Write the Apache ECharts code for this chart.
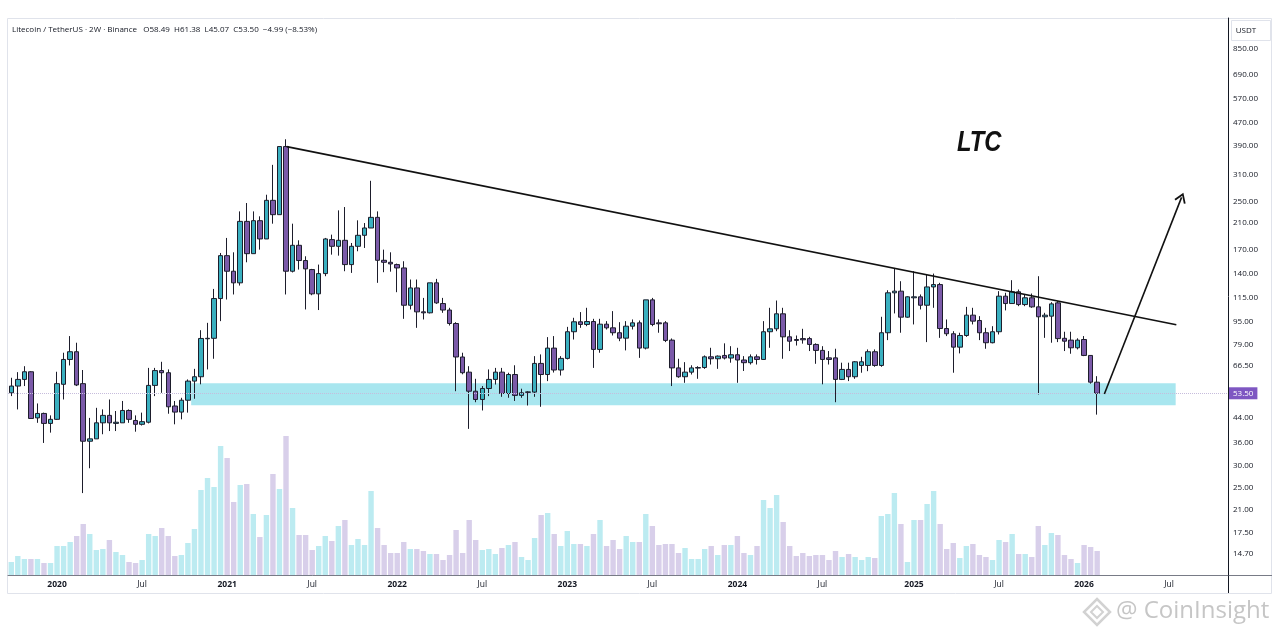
<!DOCTYPE html>
<html>
<head>
<meta charset="utf-8">
<title>Litecoin / TetherUS · 2W · Binance</title>
<script src="https://cdn.jsdelivr.net/npm/echarts@6.0.0/dist/echarts.min.js"></script>
<style>
  html, body { margin: 0; padding: 0; background: #ffffff; }
  #chart { width: 1280px; height: 636px; }
</style>
</head>
<body>
<div id="chart"></div>
<script>
// 2W candles, bar 0 = 2019-09-30, bar 166 = 2026-02-09 (x is the bar index)
const opens = [
  53.7, 56.7, 59.8, 63.6, 43.9, 45.5, 42.0, 43.4, 57.5, 70.2,
  74.7, 57.8, 36.4, 37.1, 42.2, 44.8, 42.0, 42.2, 46.6, 43.0,
  41.7, 42.4, 57.0, 64.2, 63.1, 48.3, 46.0, 50.6, 59.0, 61.1,
  82.9, 83.2, 114.5, 161.6, 142.6, 129.9, 212.8, 164.2, 214.0, 184.8,
  252.0, 224.6, 388.2, 142.6, 175.6, 155.4, 144.5, 118.9, 139.9, 183.8,
  174.2, 182.8, 150.4, 174.2, 190.3, 201.8, 219.8, 155.7, 153.2, 150.4,
  146.4, 108.5, 124.7, 102.9, 102.1, 129.9, 110.0, 104.4, 93.7, 71.6,
  63.4, 54.4, 50.9, 55.6, 59.8, 63.4, 53.4, 62.2, 52.6, 53.9,
  54.0, 68.0, 62.2, 76.9, 64.5, 70.8, 87.7, 95.0, 93.0, 95.2,
  76.1, 93.2, 90.5, 87.0, 83.3, 91.7, 94.2, 76.9, 113.3, 94.2,
  94.2, 82.0, 65.6, 61.1, 63.4, 65.5, 65.8, 71.7, 70.6, 72.5,
  71.0, 72.9, 69.9, 68.4, 71.7, 70.2, 87.7, 89.8, 101.3, 84.2,
  82.4, 83.0, 83.0, 79.2, 75.5, 71.1, 71.1, 59.8, 64.8, 61.1,
  66.9, 66.9, 74.7, 66.9, 87.0, 119.9, 121.5, 98.6, 115.2, 116.1,
  108.5, 125.7, 128.1, 90.0, 86.3, 77.5, 85.1, 100.2, 96.0, 87.0,
  80.3, 87.7, 116.7, 110.0, 120.9, 109.1, 115.2, 107.1, 98.9, 99.4,
  110.6, 83.2, 82.0, 77.1, 82.4, 72.5, 58.49
];
const closes = [
  56.7, 59.8, 63.6, 43.7, 45.5, 42.0, 43.4, 57.8, 70.2, 74.7,
  57.2, 36.4, 37.1, 42.2, 44.8, 42.2, 42.4, 46.6, 43.4, 41.7,
  42.6, 57.0, 64.2, 63.1, 48.0, 46.0, 50.6, 59.0, 61.1, 83.1,
  83.2, 114.5, 161.6, 142.6, 129.9, 212.8, 164.2, 214.0, 184.8, 252.0,
  224.6, 388.2, 142.6, 175.6, 155.4, 145.3, 118.9, 139.9, 184.8, 174.2,
  182.8, 150.4, 174.2, 190.3, 201.8, 219.8, 155.7, 153.2, 151.2, 146.4,
  108.5, 124.7, 102.9, 102.1, 129.9, 110.6, 104.4, 93.7, 71.6, 63.1,
  54.4, 50.9, 55.6, 59.8, 63.4, 53.4, 62.2, 52.6, 53.7, 54.1,
  68.0, 62.2, 76.9, 64.5, 70.8, 87.7, 95.0, 93.0, 95.2, 76.1,
  93.2, 90.5, 87.0, 83.3, 91.7, 94.2, 76.9, 113.3, 93.0, 93.5,
  81.8, 65.6, 61.1, 63.4, 65.6, 65.8, 71.7, 70.6, 72.1, 71.0,
  72.9, 69.9, 68.4, 71.7, 70.2, 87.7, 89.8, 101.3, 84.2, 81.3,
  81.8, 82.2, 79.2, 75.5, 70.2, 70.2, 59.8, 64.8, 61.1, 68.9,
  68.9, 74.7, 66.9, 87.0, 119.9, 121.5, 98.6, 116.1, 116.1, 108.5,
  125.7, 128.1, 90.0, 86.3, 77.5, 85.1, 100.2, 95.5, 87.0, 80.3,
  87.7, 116.7, 110.0, 120.9, 109.1, 115.2, 107.1, 98.9, 100.2, 109.7,
  83.0, 81.3, 77.1, 82.0, 72.5, 58.5, 53.50
];
const lows = [
  52.3, 47.0, 56.7, 43.7, 42.2, 35.9, 39.0, 43.2, 50.9, 66.9,
  56.7, 24.0, 29.3, 37.1, 38.5, 39.5, 39.5, 42.2, 42.2, 39.3,
  41.3, 42.0, 52.3, 53.7, 45.4, 41.7, 43.4, 45.8, 51.2, 57.5,
  64.8, 70.6, 95.5, 113.6, 118.3, 127.1, 153.2, 164.2, 169.6, 184.8,
  208.9, 224.6, 118.3, 141.2, 144.5, 104.9, 117.6, 104.4, 137.0, 162.9,
  161.6, 142.6, 140.7, 167.4, 171.9, 201.8, 129.9, 141.5, 142.1, 120.5,
  97.3, 104.9, 90.5, 96.8, 101.6, 109.7, 102.1, 92.2, 54.4, 62.3,
  40.2, 49.8, 46.6, 52.3, 57.4, 52.0, 51.6, 50.3, 51.6, 48.5,
  52.0, 48.0, 59.0, 63.2, 61.7, 70.2, 82.4, 90.5, 91.7, 65.6,
  74.1, 89.3, 85.1, 81.3, 75.5, 89.3, 71.1, 76.1, 91.7, 87.0,
  80.7, 56.7, 60.6, 58.2, 62.2, 60.1, 65.1, 67.4, 65.1, 70.2,
  68.4, 58.2, 64.0, 67.4, 67.4, 69.9, 77.1, 88.1, 70.6, 75.1,
  78.5, 79.7, 75.1, 67.8, 57.5, 67.4, 49.8, 59.5, 59.0, 60.1,
  63.1, 63.9, 66.2, 66.2, 82.0, 101.6, 87.0, 98.1, 93.0, 104.9,
  80.7, 106.3, 83.5, 84.7, 63.1, 73.7, 84.2, 93.0, 82.0, 76.5,
  79.9, 85.8, 104.1, 110.0, 107.7, 107.7, 106.3, 53.0, 83.5, 80.3,
  80.7, 75.1, 73.5, 76.1, 72.1, 57.8, 45.07
];
const highs = [
  60.6, 63.4, 66.5, 63.9, 49.3, 45.8, 44.8, 63.6, 74.1, 84.7,
  80.3, 64.5, 43.9, 47.6, 47.0, 50.9, 46.4, 50.3, 47.0, 44.8,
  45.8, 65.6, 65.6, 68.9, 64.8, 50.3, 51.6, 59.8, 65.1, 88.8,
  94.2, 123.7, 165.1, 186.3, 166.0, 230.6, 246.6, 230.6, 221.6, 263.6,
  335.1, 388.2, 411.5, 208.9, 182.8, 160.8, 145.3, 150.4, 186.3, 191.3,
  232.5, 238.8, 178.9, 214.6, 210.0, 294.8, 230.6, 169.6, 166.0, 151.6,
  154.5, 133.4, 133.4, 115.1, 129.9, 134.1, 115.1, 106.3, 94.7, 74.1,
  66.5, 60.1, 56.7, 64.8, 65.6, 65.6, 63.1, 67.0, 55.5, 54.4,
  72.1, 73.1, 84.0, 84.7, 72.1, 91.2, 98.1, 102.7, 106.3, 97.3,
  97.3, 95.5, 103.5, 94.7, 95.5, 96.8, 96.0, 113.3, 115.1, 96.8,
  95.5, 83.1, 70.6, 68.7, 67.0, 66.5, 72.5, 77.1, 72.5, 79.9,
  78.1, 77.1, 72.1, 73.1, 73.1, 95.5, 106.3, 112.7, 106.3, 88.8,
  85.1, 89.8, 84.2, 79.9, 78.1, 75.1, 76.5, 68.4, 68.4, 69.3,
  71.7, 76.1, 76.1, 98.9, 122.4, 146.4, 131.6, 116.7, 142.6, 118.3,
  138.8, 139.9, 129.9, 96.8, 88.1, 87.0, 107.1, 106.3, 99.4, 90.5,
  91.7, 121.5, 119.9, 132.7, 123.1, 118.3, 119.2, 137.0, 102.1, 111.2,
  112.1, 87.7, 87.7, 83.2, 84.7, 72.5, 61.38
];
// relative volume per bar
const volumes = [
  13, 19, 16, 16, 16, 12, 12, 29, 29, 33,
  39, 51, 41, 25, 26, 35, 23, 20, 13, 12,
  15, 41, 39, 47, 39, 19, 20, 32, 46, 85,
  97, 88, 129, 117, 73, 90, 91, 61, 38, 60,
  101, 86, 139, 67, 40, 40, 25, 29, 39, 34,
  49, 55, 30, 36, 30, 84, 47, 30, 22, 22,
  33, 26, 26, 24, 21, 21, 15, 20, 45, 22,
  55, 35, 25, 26, 21, 27, 30, 33, 18, 15,
  37, 60, 62, 41, 29, 44, 31, 31, 29, 41,
  55, 29, 35, 26, 39, 33, 33, 61, 49, 30,
  31, 31, 22, 27, 16, 16, 26, 29, 20, 30,
  30, 39, 22, 20, 29, 75, 67, 80, 53, 29,
  19, 22, 19, 20, 20, 15, 24, 18, 21, 18,
  15, 18, 17, 59, 61, 82, 51, 13, 55, 55,
  71, 84, 51, 26, 32, 17, 29, 31, 20, 18,
  15, 35, 33, 41, 21, 21, 18, 49, 30, 42,
  40, 20, 16, 12, 30, 28, 24
];

const xTickBars = [7, 20, 33, 46, 59, 72, 85, 98, 111, 124, 138, 151, 164, 177];
const xTickLabels = ['2020', 'Jul', '2021', 'Jul', '2022', 'Jul', '2023', 'Jul', '2024', 'Jul', '2025', 'Jul', '2026', 'Jul'];
const yTicks = [850, 690, 570, 470, 390, 310, 250, 210, 170, 140, 115, 95, 79, 66.5, 44, 36, 30, 25, 21, 17.5, 14.7];
const lastPrice = 53.50;

const priceMin = 12.43;
const priceMax = 1090;
const zone = { from: 27.5, to: 178, low: 48.6, high: 58.0 };
const trendLine = [[42.1, 388], [178.1, 92.8]];
const arrowLine = [[167.1, 53.2], [178.9, 258]];

const UP = '#3ab0c0';
const DOWN = '#7b5aa9';
const EDGE = '#1d1d2b';
const VOL_UP = '#bcebf1';
const VOL_DOWN = '#d8cfea';
const TEXT = '#131722';
const FONT = '"Open Sans", "Noto Sans", sans-serif';

const candleData = opens.map((o, i) => [i, o, closes[i], lows[i], highs[i]]);
const volumeData = volumes.map((v, i) => ({
  value: [i, v],
  itemStyle: { color: closes[i] >= opens[i] ? VOL_UP : VOL_DOWN }
}));

// invisible price lines that only carry the right-hand scale labels
const tickLines = yTicks.map(v => ({
  yAxis: v,
  name: v.toFixed(2),
  lineStyle: { color: 'rgba(0,0,0,0)', width: 0 },
  label: { show: true }
}));

const chart = echarts.init(document.getElementById('chart'));

chart.setOption({
  animation: false,
  backgroundColor: '#ffffff',
  textStyle: { fontFamily: FONT },
  grid: [
    { left: 8, right: 52, top: 18, bottom: 61 },
    { left: 8, right: 52, top: 425, bottom: 61 }
  ],
  xAxis: [
    {
      type: 'value',
      gridIndex: 0,
      min: -0.5,
      max: 186,
      splitLine: { show: false },
      axisTick: { show: false },
      axisLine: { show: true, onZero: false, lineStyle: { color: '#787b86', width: 1 } },
      axisLabel: {
        customValues: xTickBars,
        margin: 5,
        color: TEXT,
        fontSize: 8.5,
        fontFamily: FONT,
        formatter: function (v) {
          const t = xTickLabels[xTickBars.indexOf(v)] || '';
          return /^\d{4}$/.test(t) ? '{y|' + t + '}' : t;
        },
        rich: { y: { fontWeight: 'bold', fontSize: 8.5, color: TEXT, fontFamily: FONT } }
      }
    },
    { type: 'value', gridIndex: 1, min: -0.5, max: 186, show: false }
  ],
  yAxis: [
    {
      type: 'log',
      gridIndex: 0,
      position: 'right',
      min: priceMin,
      max: priceMax,
      splitLine: { show: false },
      axisTick: { show: false },
      axisLabel: { show: false },
      axisLine: { show: true, onZero: false, lineStyle: { color: TEXT, width: 1 } }
    },
    { type: 'value', gridIndex: 1, min: 0, max: 150, show: false }
  ],
  series: [
    {
      name: 'volume',
      type: 'bar',
      xAxisIndex: 1,
      yAxisIndex: 1,
      barWidth: 5.4,
      data: volumeData,
      z: 1
    },
    {
      name: 'LTCUSDT',
      type: 'candlestick',
      xAxisIndex: 0,
      yAxisIndex: 0,
      barWidth: 5,
      clip: false,
      z: 3,
      data: candleData,
      itemStyle: {
        color: UP,
        color0: DOWN,
        borderColor: EDGE,
        borderColor0: EDGE,
        borderWidth: 1
      },
      markArea: {
        silent: true,
        z: 1,
        itemStyle: { color: '#a8e6ef' },
        data: [[
          { xAxis: zone.from, yAxis: zone.low },
          { xAxis: zone.to, yAxis: zone.high }
        ]]
      },
      markLine: {
        silent: true,
        symbol: 'none',
        precision: 2,
        label: {
          position: 'end',
          distance: 5,
          formatter: '{b}',
          color: TEXT,
          fontSize: 8,
          fontFamily: FONT
        },
        data: tickLines.concat([
          {
            yAxis: lastPrice,
            name: lastPrice.toFixed(2),
            lineStyle: { color: '#c6bcdc', type: 'dotted', width: 1 },
            label: {
              show: true,
              distance: 1,
              color: '#ffffff',
              backgroundColor: '#7e57c2',
              padding: [2, 4, 2, 4],
              fontSize: 8
            }
          },
          [
            { coord: trendLine[0], lineStyle: { color: '#111111', width: 1.6, type: 'solid' }, label: { show: false } },
            { coord: trendLine[1] }
          ],
          [
            {
              coord: arrowLine[0],
              symbol: 'none',
              lineStyle: { color: '#111111', width: 1.6, type: 'solid' },
              label: { show: false }
            },
            {
              coord: arrowLine[1],
              symbol: 'path://M5 0 L10 8.2 L8.7 9 L5 2.8 L1.3 9 L0 8.2 Z',
              symbolSize: [12, 10]
            }
          ]
        ])
      }
    }
  ],
  graphic: [
    {
      type: 'rect',
      silent: true,
      shape: { x: 7.5, y: 18.5, width: 1264, height: 575 },
      style: { fill: 'none', stroke: '#e0e3eb', lineWidth: 1 }
    },
    {
      type: 'line',
      silent: true,
      shape: { x1: 1228, y1: 575.5, x2: 1272, y2: 575.5 },
      style: { stroke: '#787b86', lineWidth: 1 }
    },
    {
      type: 'line',
      silent: true,
      shape: { x1: 1228.5, y1: 575, x2: 1228.5, y2: 593 },
      style: { stroke: TEXT, lineWidth: 1 }
    },
    {
      type: 'rect',
      silent: true,
      shape: { x: 1231.5, y: 20.5, width: 39, height: 20 },
      style: { fill: '#ffffff', stroke: '#e0e3eb', lineWidth: 1 }
    },
    {
      type: 'text',
      silent: true,
      style: { x: 1246, y: 31, text: 'USDT', fill: TEXT, font: '8px ' + FONT, align: 'center', verticalAlign: 'middle' }
    },
    {
      type: 'text',
      silent: true,
      style: {
        x: 12, y: 29.5,
        text: 'Litecoin / TetherUS · 2W · Binance   O58.49  H61.38  L45.07  C53.50  \u22124.99 (\u22128.53%)',
        fill: TEXT, font: '8px ' + FONT, verticalAlign: 'middle'
      }
    },
    {
      type: 'text',
      silent: true,
      x: 957,
      y: 143,
      scaleX: 0.82,
      style: { x: 0, y: 0, text: 'LTC', fill: '#111111', font: 'italic bold 29px "Liberation Sans", Arial, sans-serif', verticalAlign: 'middle' }
    },
    {
      type: 'polygon',
      silent: true,
      shape: { points: [[1097, 599], [1110, 612], [1097, 625], [1084, 612]] },
      style: { fill: 'none', stroke: '#d2d2d2', lineWidth: 2.5 }
    },
    {
      type: 'polygon',
      silent: true,
      shape: { points: [[1097, 606], [1103, 612], [1097, 618], [1091, 612]] },
      style: { fill: 'none', stroke: '#d2d2d2', lineWidth: 2 }
    },
    {
      type: 'text',
      silent: true,
      style: { x: 1116, y: 611, text: '@ CoinInsight', fill: '#c6c6c6', font: '24px ' + FONT, verticalAlign: 'middle' }
    }
  ]
});
</script>
</body>
</html>
